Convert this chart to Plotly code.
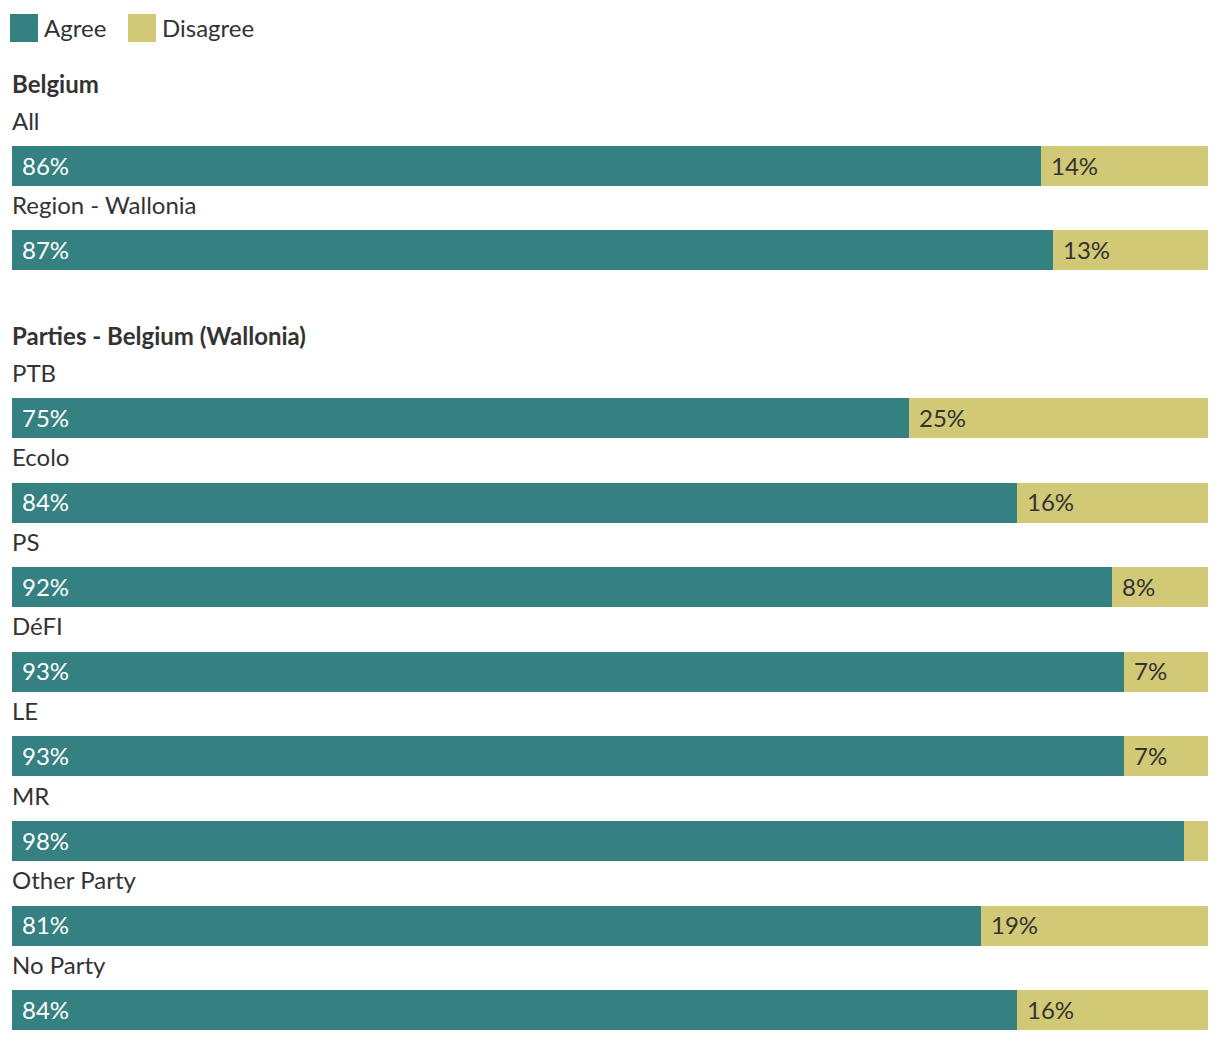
import plotly.graph_objects as go

# ---- data ----
groups = ["Belgium", "Parties - Belgium (Wallonia)"]
group1_labels = ["All", "Region - Wallonia"]
group1_agree = [86, 87]
group1_disagree = [14, 13]
group2_labels = ["PTB", "Ecolo", "PS", "DéFI", "LE", "MR", "Other Party", "No Party"]
group2_agree = [75, 84, 92, 93, 93, 98, 81, 84]
group2_disagree = [25, 16, 8, 7, 7, 2, 19, 16]
series_names = ["Agree", "Disagree"]

# ---- style ----
W, H = 1220, 1042
L, R = 12, 12
TEAL = "#358080"
SAND = "#D1C975"
TXT = "#333333"
FONT = "Lato"
FS = 24
BAR_H = 40

# layout positions (pixel rows)
g_start = [166, 418]
g_step = [84, 84.6]

labels, agree, disagree, ys = [], [], [], []
headers = []
for gi, (lab, ag, dg) in enumerate([(group1_labels, group1_agree, group1_disagree),
                                     (group2_labels, group2_agree, group2_disagree)]):
    headers.append((groups[gi], g_start[gi] - 83))
    for i in range(len(lab)):
        labels.append(lab[i]); agree.append(ag[i]); disagree.append(dg[i])
        ys.append(g_start[gi] + i * g_step[gi])

fig = go.Figure()
fig.add_trace(go.Bar(y=ys, x=agree, orientation="h", marker=dict(color=TEAL, line=dict(width=0)),
                     width=BAR_H, name=series_names[0], hoverinfo="skip", showlegend=False))
fig.add_trace(go.Bar(y=ys, x=disagree, base=agree, orientation="h",
                     marker=dict(color=SAND, line=dict(width=0)),
                     width=BAR_H, name=series_names[1], hoverinfo="skip", showlegend=False))

ann = []
for lab, a, d, y in zip(labels, agree, disagree, ys):
    ann.append(dict(x=0, y=y - 46, xref="x", yref="y", text=lab, showarrow=False, xshift=-2,
                    xanchor="left", yanchor="middle", font=dict(family=FONT, size=FS, color=TXT)))
    ann.append(dict(x=0, y=y - 1, xref="x", yref="y", text=f"{a}%", showarrow=False, xshift=8,
                    xanchor="left", yanchor="middle", font=dict(family=FONT, size=FS, color="white")))
    if d >= 4:
        ann.append(dict(x=a, y=y - 1, xref="x", yref="y", text=f"{d}%", showarrow=False, xshift=8,
                        xanchor="left", yanchor="middle", font=dict(family=FONT, size=FS, color=TXT)))
for text, y in headers:
    ann.append(dict(x=0, y=y, xref="x", yref="y", text=f"<b>{text}</b>", showarrow=False, xshift=-2,
                    xanchor="left", yanchor="middle", font=dict(family=FONT, size=FS, color=TXT)))

# legend built manually
pw = W - L - R
def px(x):
    return (x - L) / pw

shapes = []
leg_items = [(series_names[0], TEAL, 10, 42), (series_names[1], SAND, 128, 160)]
for name, col, sx, tx in leg_items:
    shapes.append(dict(type="rect", xref="paper", yref="y", x0=px(sx), x1=px(sx + 28), y0=14, y1=42,
                       fillcolor=col, line=dict(width=0)))
    ann.append(dict(x=px(tx), y=27, xref="paper", yref="y", text=name, showarrow=False,
                    xanchor="left", yanchor="middle", font=dict(family=FONT, size=FS, color=TXT)))

fig.update_layout(
    width=W, height=H, margin=dict(l=L, r=R, t=0, b=0),
    paper_bgcolor="white", plot_bgcolor="white",
    barmode="overlay", bargap=0,
    xaxis=dict(range=[0, 100], visible=False, fixedrange=True),
    yaxis=dict(range=[H, 0], visible=False, fixedrange=True),
    annotations=ann, shapes=shapes, showlegend=False,
)

fig.write_html("out.html", config={"displayModeBar": False})
